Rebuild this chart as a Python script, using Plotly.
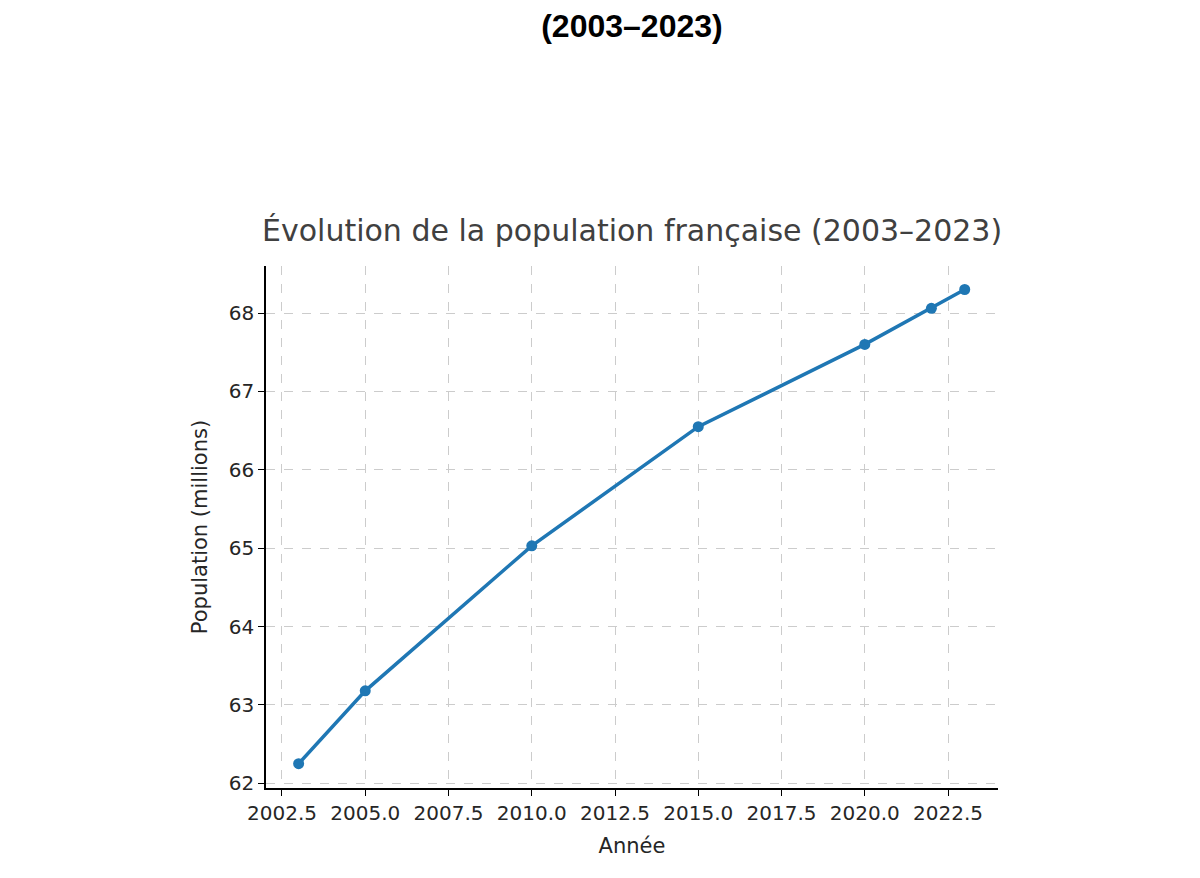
import plotly.graph_objects as go

years = [2003, 2005, 2010, 2015, 2020, 2022, 2023]
population = [62.25, 63.18, 65.03, 66.55, 67.60, 68.06, 68.30]
x_ticks = [2002.5, 2005.0, 2007.5, 2010.0, 2012.5, 2015.0, 2017.5, 2020.0, 2022.5]
y_ticks = [62, 63, 64, 65, 66, 67, 68]

fig = go.Figure()
fig.add_trace(go.Scatter(
    x=years, y=population, mode="lines+markers",
    line=dict(color="#1f77b4", width=3.5),
    marker=dict(size=11, color="#1f77b4"),
    showlegend=False,
))

fig.add_annotation(
    text="<b>Graphique : Évolution de la population française<br>(2003–2023)</b>",
    xref="paper", yref="paper", x=0.5, y=1.5, showarrow=False,
    font=dict(family="Liberation Sans, Arial", size=32, color="black"),
    xanchor="center", yanchor="middle",
)
fig.add_annotation(
    text="Évolution de la population française (2003–2023)",
    xref="paper", yref="paper", x=0.5, y=1.03, showarrow=False,
    font=dict(family="DejaVu Sans", size=30, color="#404040"),
    xanchor="center", yanchor="bottom",
)

axis_common = dict(
    showgrid=True, gridcolor="#cccccc", griddash="dash", gridwidth=1,
    showline=True, linecolor="black", linewidth=1.5,
    ticks="outside", ticklen=6, tickcolor="black",
    tickfont=dict(family="DejaVu Sans", size=20, color="#262626"),
    zeroline=False,
)
fig.update_xaxes(
    range=[2002.02, 2024.0], tickvals=x_ticks,
    ticktext=[f"{v:.1f}" for v in x_ticks],
    title=dict(text="Année", font=dict(family="DejaVu Sans", size=21, color="#262626")),
    **axis_common,
)
fig.update_yaxes(
    range=[61.94, 68.6], tickvals=y_ticks,
    title=dict(text="Population (millions)", font=dict(family="DejaVu Sans", size=21, color="#262626")),
    **axis_common,
)

fig.update_layout(
    width=1200, height=878,
    margin=dict(l=258, r=210, t=258, b=98),
    plot_bgcolor="white", paper_bgcolor="white",
)

fig.write_html("out.html")
